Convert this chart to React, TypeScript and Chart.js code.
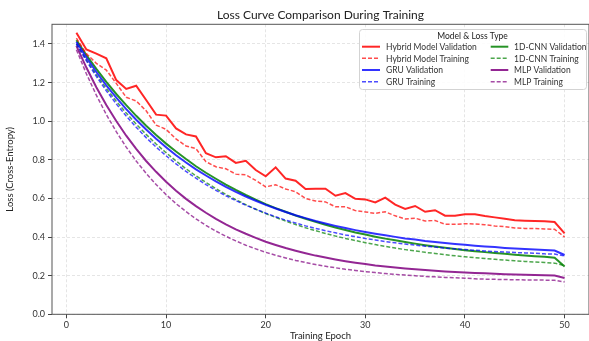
import React, { useEffect, useRef } from "react";
import { Chart, registerables } from "chart.js";

Chart.register(...registerables);

const epochs = [1,2,3,4,5,6,7,8,9,10,11,12,13,14,15,16,17,18,19,20,21,22,23,24,25,26,27,28,29,30,31,32,33,34,35,36,37,38,39,40,41,42,43,44,45,46,47,48,49,50];
const xTickValues = [0, 10, 20, 30, 40, 50];
const yTickValues = [0, 0.2, 0.4, 0.6, 0.8, 1.0, 1.2, 1.4];

const hybridVal = [
  1.458,1.372,1.350,1.326,1.213,1.167,1.184,1.110,1.034,1.029,
  0.963,0.932,0.921,0.834,0.813,0.819,0.784,0.795,0.747,0.715,
  0.761,0.703,0.692,0.649,0.650,0.650,0.614,0.628,0.598,0.595,
  0.579,0.604,0.568,0.546,0.561,0.531,0.539,0.511,0.511,0.518,
  0.518,0.509,0.502,0.495,0.487,0.485,0.483,0.482,0.478,0.419];
const hybridTrain = [
  1.430,1.350,1.300,1.265,1.196,1.124,1.105,1.054,0.980,0.958,
  0.908,0.872,0.858,0.790,0.764,0.754,0.726,0.722,0.694,0.660,
  0.671,0.649,0.635,0.600,0.587,0.582,0.557,0.557,0.537,0.530,
  0.523,0.531,0.510,0.494,0.498,0.483,0.486,0.466,0.466,0.469,
  0.468,0.464,0.457,0.454,0.447,0.445,0.444,0.442,0.440,0.400];
const gruVal = [
  1.410,1.330,1.255,1.186,1.122,1.063,1.008,0.957,0.909,0.865,
  0.824,0.786,0.751,0.719,0.688,0.660,0.634,0.610,0.588,0.567,
  0.548,0.530,0.513,0.498,0.483,0.470,0.458,0.447,0.436,0.426,
  0.417,0.409,0.401,0.393,0.387,0.380,0.375,0.369,0.364,0.360,
  0.355,0.351,0.348,0.344,0.341,0.338,0.335,0.333,0.330,0.307];
const gruTrain = [
  1.400,1.313,1.232,1.158,1.090,1.027,0.969,0.915,0.866,0.821,
  0.779,0.740,0.705,0.672,0.642,0.614,0.589,0.565,0.544,0.524,
  0.505,0.488,0.473,0.458,0.445,0.433,0.422,0.411,0.402,0.393,
  0.385,0.377,0.370,0.364,0.358,0.353,0.348,0.343,0.339,0.335,
  0.332,0.328,0.325,0.323,0.320,0.318,0.316,0.313,0.312,0.302];
const cnnVal = [
  1.420,1.343,1.271,1.204,1.141,1.083,1.028,0.977,0.929,0.884,
  0.843,0.804,0.767,0.733,0.702,0.672,0.644,0.618,0.594,0.571,
  0.550,0.531,0.512,0.495,0.479,0.464,0.450,0.437,0.424,0.413,
  0.402,0.392,0.383,0.374,0.366,0.358,0.351,0.345,0.338,0.332,
  0.327,0.322,0.317,0.313,0.309,0.305,0.301,0.298,0.293,0.247];
const cnnTrain = [
  1.400,1.318,1.241,1.170,1.104,1.042,0.985,0.932,0.882,0.837,
  0.794,0.754,0.717,0.683,0.651,0.621,0.594,0.568,0.544,0.522,
  0.502,0.483,0.465,0.448,0.433,0.419,0.405,0.393,0.382,0.371,
  0.361,0.352,0.343,0.335,0.328,0.321,0.315,0.309,0.303,0.298,
  0.293,0.289,0.285,0.281,0.277,0.274,0.271,0.268,0.265,0.252];
const mlpVal = [
  1.390,1.278,1.176,1.084,1.001,0.925,0.857,0.794,0.738,0.687,
  0.640,0.598,0.560,0.526,0.494,0.466,0.440,0.417,0.396,0.376,
  0.359,0.343,0.329,0.316,0.304,0.294,0.284,0.275,0.267,0.260,
  0.253,0.248,0.242,0.237,0.233,0.229,0.225,0.222,0.219,0.216,
  0.214,0.212,0.210,0.208,0.206,0.205,0.203,0.202,0.201,0.188];
const mlpTrain = [
  1.370,1.246,1.135,1.035,0.946,0.866,0.794,0.730,0.672,0.620,
  0.573,0.532,0.494,0.461,0.431,0.404,0.380,0.358,0.339,0.321,
  0.306,0.292,0.279,0.268,0.258,0.249,0.241,0.233,0.227,0.221,
  0.216,0.211,0.207,0.203,0.200,0.196,0.194,0.191,0.189,0.187,
  0.184,0.182,0.181,0.180,0.179,0.178,0.178,0.177,0.176,0.167];

const seriesNames = [
  "Hybrid Model Validation", "Hybrid Model Training",
  "GRU Validation", "GRU Training",
  "1D-CNN Validation", "1D-CNN Training",
  "MLP Validation", "MLP Training",
];
const seriesValues = [hybridVal, hybridTrain, gruVal, gruTrain, cnnVal, cnnTrain, mlpVal, mlpTrain];
const seriesColors = [
  "rgba(255,0,0,0.85)", "rgba(255,0,0,0.7)",
  "rgba(0,0,255,0.8)", "rgba(0,0,255,0.7)",
  "rgba(0,128,0,0.85)", "rgba(0,128,0,0.7)",
  "rgba(128,0,128,0.85)", "rgba(128,0,128,0.7)",
];
const chartTitle = "Loss Curve Comparison During Training";
const legendTitle = "Model & Loss Type";
const FONT = "Lato, 'Open Sans', sans-serif";

const framePlugin = {
  id: "frame",
  afterDatasetsDraw(chart: any) {
    const { ctx, chartArea } = chart;
    ctx.save();
    ctx.strokeStyle = "#555";
    ctx.lineWidth = 1;
    ctx.strokeRect(chartArea.left, chartArea.top, chartArea.right - chartArea.left, chartArea.bottom - chartArea.top);
    ctx.restore();
  },
};

const titlePlugin = {
  id: "axesTitle",
  afterDraw(chart: any) {
    const { ctx, chartArea } = chart;
    ctx.save();
    ctx.fillStyle = "#222";
    ctx.font = `12px ${FONT}`;
    ctx.textAlign = "center";
    ctx.textBaseline = "middle";
    ctx.fillText(chartTitle, (chartArea.left + chartArea.right) / 2, 15);
    ctx.restore();
  },
};

const legendPlugin = {
  id: "mplLegend",
  afterDraw(chart: any) {
    const { ctx } = chart;
    const bx = 359.5, by = 29.5, bw = 227, bh = 60;
    ctx.save();
    ctx.beginPath();
    if (ctx.roundRect) ctx.roundRect(bx, by, bw, bh, 3); else ctx.rect(bx, by, bw, bh);
    ctx.fillStyle = "rgba(255,255,255,0.85)";
    ctx.fill();
    ctx.strokeStyle = "#d3d3d3";
    ctx.lineWidth = 1;
    ctx.stroke();
    ctx.fillStyle = "#222";
    ctx.font = `8.5px ${FONT}`;
    ctx.textAlign = "center";
    ctx.textBaseline = "middle";
    ctx.fillText(legendTitle, 472.5, 36);
    const ds = chart.data.datasets;
    const rowY = [46.7, 58.3, 70, 81.7];
    const colLine = [[362, 380], [490.7, 508.3]];
    const colText = [386, 514];
    ds.forEach((d: any, i: number) => {
      const col = Math.floor(i / 4);
      const row = i % 4;
      const y = rowY[row];
      ctx.beginPath();
      ctx.setLineDash(d.borderDash || []);
      ctx.strokeStyle = d.borderColor;
      ctx.lineWidth = d.borderWidth;
      ctx.moveTo(colLine[col][0], y);
      ctx.lineTo(colLine[col][1], y);
      ctx.stroke();
      ctx.setLineDash([]);
      ctx.fillStyle = "#333";
      ctx.textAlign = "left";
      ctx.fillText(d.label, colText[col], y + 0.5);
    });
    ctx.restore();
  },
};

export default function App() {
  const ref = useRef<HTMLCanvasElement | null>(null);
  useEffect(() => {
    document.body.style.margin = "0";
    const canvas = ref.current;
    if (!canvas) return;
    const datasets = seriesNames.map((name, i) => {
      const dashed = i % 2 === 1;
      return {
        label: name,
        data: seriesValues[i],
        borderColor: seriesColors[i],
        backgroundColor: seriesColors[i],
        borderWidth: dashed ? 1.5 : 2,
        borderDash: dashed ? [4, 2] : [],
        pointRadius: 0,
        tension: 0,
        fill: false,
      };
    });
    const chart = new Chart(canvas, {
      type: "line",
      data: { labels: epochs, datasets },
      options: {
        responsive: false,
        animation: false,
        devicePixelRatio: 1,
        layout: { padding: { left: 0, right: -1.2, top: 24.3, bottom: 0 } },
        plugins: {
          legend: { display: false },
          tooltip: { enabled: false },
          title: { display: false },
        },
        scales: {
          x: {
            type: "linear",
            min: -1.45,
            max: 52.45,
            afterBuildTicks: (axis: any) => {
              axis.ticks = xTickValues.map((v) => ({ value: v }));
            },
            afterFit: (axis: any) => { axis.height = 26.7; },
            ticks: {
              color: "#333",
              font: { family: FONT, size: 9 },
              padding: 1,
              maxRotation: 0,
              callback: (v: any) => String(v),
            },
            grid: {
              color: "rgba(0,0,0,0.1)",
              tickColor: "#444",
              tickLength: 4,
              lineWidth: 1,
            },
            border: { display: false, dash: [3, 2] },
            title: {
              display: true,
              text: "Training Epoch",
              color: "#222",
              font: { family: FONT, size: 9.5 },
              padding: { top: 0, bottom: -1 },
            },
          },
          y: {
            type: "linear",
            min: 0,
            max: 1.502,
            afterBuildTicks: (axis: any) => {
              axis.ticks = yTickValues.map((v) => ({ value: v }));
            },
            afterFit: (axis: any) => { axis.width = 52; },
            ticks: {
              color: "#333",
              font: { family: FONT, size: 9 },
              padding: 3,
              callback: (v: any) => Number(v).toFixed(1),
            },
            grid: {
              color: "rgba(0,0,0,0.1)",
              tickColor: "#444",
              tickLength: 4,
              lineWidth: 1,
            },
            border: { display: false, dash: [3, 2] },
            title: {
              display: true,
              text: "Loss (Cross-Entropy)",
              color: "#222",
              font: { family: FONT, size: 9.5 },
              padding: { top: 4.5, bottom: 0 },
            },
          },
        },
      },
      plugins: [framePlugin, titlePlugin, legendPlugin],
    } as any);
    return () => chart.destroy();
  }, []);
  return (
    <div style={{ position: "fixed", left: 0, top: 0, width: 589, height: 341, background: "#fff" }}>
      <canvas ref={ref} width={589} height={341} style={{ display: "block", width: 589, height: 341 }} />
    </div>
  );
}
